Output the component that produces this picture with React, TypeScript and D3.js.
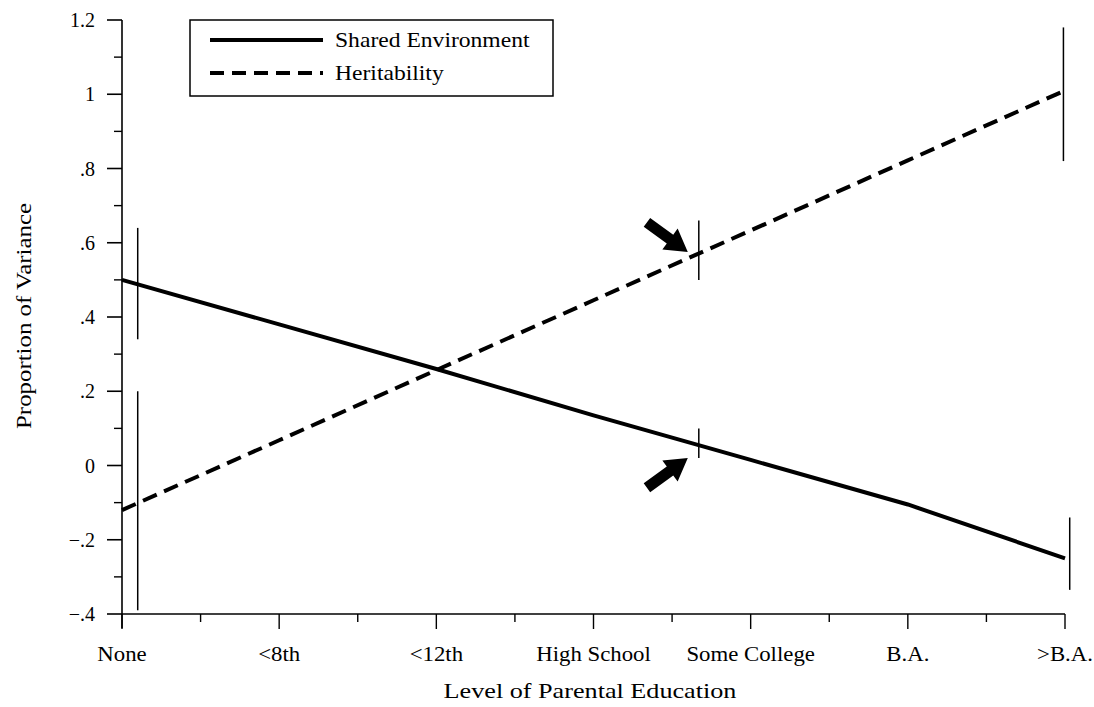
import React from "react";
import * as d3 from "d3";

const categories = ["None", "<8th", "<12th", "High School", "Some College", "B.A.", ">B.A."];
const sharedEnv = [0.5, 0.38, 0.26, 0.135, 0.015, -0.105, -0.25];
const heritability = [-0.12, 0.068, 0.257, 0.445, 0.633, 0.822, 1.01];
const yTicks = [-0.4, -0.2, 0, 0.2, 0.4, 0.6, 0.8, 1.0, 1.2];
const yTickLabels = ["\u2212.4", "\u2212.2", "0", ".2", ".4", ".6", ".8", "1", "1.2"];
const yMinorTicks = [-0.3, -0.1, 0.1, 0.3, 0.5, 0.7, 0.9, 1.1];
const xMinorTicks = [0.5, 1.5, 2.5, 3.5, 4.5, 5.5];
// error bars: x position (category units), low, high
const errorBars = [
  { x: 0.1, lo: 0.34, hi: 0.64 },
  { x: 0.1, lo: -0.39, hi: 0.2 },
  { x: 3.67, lo: 0.5, hi: 0.66 },
  { x: 3.67, lo: 0.02, hi: 0.1 },
  { x: 5.99, lo: 0.82, hi: 1.18 },
  { x: 6.03, lo: -0.335, hi: -0.14 },
];
// arrows: tail -> tip in data units
const arrows = [
  { x0: 3.34, y0: 0.655, x1: 3.6, y1: 0.575 },
  { x0: 3.34, y0: -0.06, x1: 3.6, y1: 0.02 },
];
const legendItems = [
  { label: "Shared Environment", dash: "none" },
  { label: "Heritability", dash: "14,8" },
];

const FONT = "'Liberation Serif', 'DejaVu Serif', serif";

function T(props: {
  x: number; y: number; sx?: number; rot?: number; size: number;
  anchor?: string; dy?: string; children: React.ReactNode;
}) {
  const { x, y, sx = 1, rot = 0, size, anchor = "start", dy, children } = props;
  return (
    <text
      transform={`translate(${x},${y}) rotate(${rot}) scale(${sx},1)`}
      textAnchor={anchor}
      fontSize={size}
      dy={dy}
    >
      {children}
    </text>
  );
}

export default function App() {
  const W = 1094, H = 707;
  const x = d3.scaleLinear().domain([0, 6]).range([122, 1065]);
  const y = d3.scaleLinear().domain([-0.4, 1.2]).range([614, 20]);
  const line = d3
    .line<number>()
    .x((_, i) => x(i))
    .y((d) => y(d));

  const arrowPath = (a: typeof arrows[0]) => {
    const X0 = x(a.x0), Y0 = y(a.y0), X1 = x(a.x1), Y1 = y(a.y1);
    const dx = X1 - X0, dy = Y1 - Y0;
    const len = Math.hypot(dx, dy);
    const ux = dx / len, uy = dy / len;
    const nx = -uy, ny = ux;
    const headLen = 22, headW = 13, shaftW = 5.5;
    const bx = X1 - ux * headLen, by = Y1 - uy * headLen;
    const pts = [
      [X0 + nx * shaftW, Y0 + ny * shaftW],
      [bx + nx * shaftW, by + ny * shaftW],
      [bx + nx * headW, by + ny * headW],
      [X1, Y1],
      [bx - nx * headW, by - ny * headW],
      [bx - nx * shaftW, by - ny * shaftW],
      [X0 - nx * shaftW, Y0 - ny * shaftW],
    ];
    return "M" + pts.map((p) => p.join(",")).join("L") + "Z";
  };

  return (
    <div style={{ position: "absolute", left: 0, top: 0 }}>
      <svg width={W} height={H} style={{ display: "block", background: "#fff" }} fontFamily={FONT}>
        {/* Y axis */}
        <line x1={x(0)} x2={x(0)} y1={y(1.2)} y2={y(-0.4) + 14} stroke="#000" strokeWidth={1.6} />
        {yTicks.map((t, i) => (
          <g key={"yt" + i}>
            <line x1={x(0) - 15} x2={x(0)} y1={y(t)} y2={y(t)} stroke="#000" strokeWidth={1.6} />
            <T x={95} y={y(t)} dy="0.35em" anchor="end" size={20}>
              {yTickLabels[i]}
            </T>
          </g>
        ))}
        {yMinorTicks.map((t, i) => (
          <line key={"ym" + i} x1={x(0) - 8} x2={x(0)} y1={y(t)} y2={y(t)} stroke="#000" strokeWidth={1.4} />
        ))}
        {/* X axis */}
        <line x1={x(0)} x2={x(6)} y1={y(-0.4)} y2={y(-0.4)} stroke="#000" strokeWidth={1.6} />
        {categories.map((c, i) => (
          <g key={"xt" + i}>
            <line x1={x(i)} x2={x(i)} y1={y(-0.4)} y2={y(-0.4) + 15} stroke="#000" strokeWidth={1.4} />
            <T x={x(i)} y={661} anchor="middle" size={20} sx={1.14}>
              {c}
            </T>
          </g>
        ))}
        {xMinorTicks.map((t, i) => (
          <line key={"xm" + i} x1={x(t)} x2={x(t)} y1={y(-0.4)} y2={y(-0.4) + 8} stroke="#000" strokeWidth={1.4} />
        ))}
        {/* Axis titles */}
        <T x={590} y={698} anchor="middle" size={22} sx={1.19}>
          Level of Parental Education
        </T>
        <T x={31} y={316} rot={-90} anchor="middle" size={22} sx={1.13}>
          Proportion of Variance
        </T>
        {/* Error bars */}
        {errorBars.map((e, i) => (
          <line key={"eb" + i} x1={x(e.x)} x2={x(e.x)} y1={y(e.lo)} y2={y(e.hi)} stroke="#000" strokeWidth={1.5} />
        ))}
        {/* Lines */}
        <path d={line(sharedEnv) || ""} fill="none" stroke="#000" strokeWidth={4} />
        <path d={line(heritability) || ""} fill="none" stroke="#000" strokeWidth={4} strokeDasharray="15,8" />
        {/* Arrows */}
        {arrows.map((a, i) => (
          <path key={"ar" + i} d={arrowPath(a)} fill="#000" />
        ))}
        {/* Legend */}
        <rect x={190} y={20} width={363} height={76} fill="#fff" stroke="#000" strokeWidth={1.5} />
        {legendItems.map((l, i) => (
          <g key={"lg" + i}>
            <line x1={210} x2={323} y1={40 + i * 33} y2={40 + i * 33} stroke="#000" strokeWidth={4} strokeDasharray={l.dash} />
            <T x={335} y={40 + i * 33} dy="0.35em" size={20} sx={1.18}>
              {l.label}
            </T>
          </g>
        ))}
      </svg>
    </div>
  );
}
